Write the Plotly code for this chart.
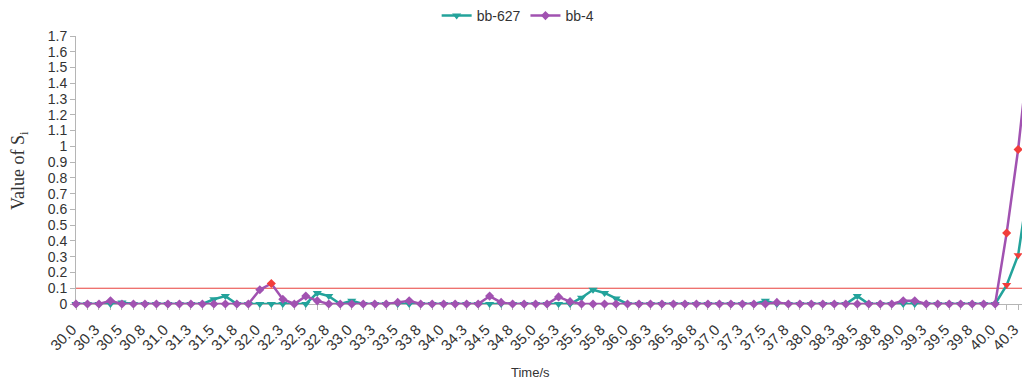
import plotly.graph_objects as go

# Sampling grid: one sample every 0.125 s starting at 30.0 s
times = [round(30 + 0.125 * k, 3) for k in range(84)]

# S_i for node bb-627
bb627 = [
    0, 0, 0, 0, 0.01, 0, 0, 0, 0, 0,
    0, 0, 0.03, 0.05, 0, 0, 0, 0, 0, 0,
    0, 0.07, 0.05, 0, 0.02, 0, 0, 0, 0, 0,
    0, 0, 0, 0, 0, 0, 0, 0, 0, 0,
    0, 0, 0, 0, 0.04, 0.09, 0.07, 0.035, 0, 0,
    0, 0, 0, 0, 0, 0, 0, 0, 0, 0,
    0.02, 0, 0, 0, 0, 0, 0, 0, 0.05, 0,
    0, 0, 0, 0, 0, 0, 0, 0, 0, 0,
    0, 0.12, 0.31, 0.8,
]

# S_i for node bb-4
bb4 = [
    0, 0, 0, 0.02, 0, 0, 0, 0, 0, 0,
    0, 0, 0, 0, 0, 0, 0.09, 0.13, 0.03, 0,
    0.05, 0.02, 0, 0, 0, 0, 0, 0, 0.01, 0.02,
    0, 0, 0, 0, 0, 0, 0.05, 0.01, 0, 0,
    0, 0, 0.045, 0.015, 0, 0, 0, 0, 0, 0,
    0, 0, 0, 0, 0, 0, 0, 0, 0, 0,
    0, 0.01, 0, 0, 0, 0, 0, 0, 0, 0,
    0, 0, 0.02, 0.02, 0, 0, 0, 0, 0, 0,
    0, 0.45, 0.98, 1.65,
]

threshold = 0.1

x_tick_labels = [
    "30.0", "30.3", "30.5", "30.8", "31.0", "31.3", "31.5", "31.8",
    "32.0", "32.3", "32.5", "32.8", "33.0", "33.3", "33.5", "33.8",
    "34.0", "34.3", "34.5", "34.8", "35.0", "35.3", "35.5", "35.8",
    "36.0", "36.3", "36.5", "36.8", "37.0", "37.3", "37.5", "37.8",
    "38.0", "38.3", "38.5", "38.8", "39.0", "39.3", "39.5", "39.8",
    "40.0", "40.3",
]
y_tick_values = [round(0.1 * k, 1) for k in range(18)]
y_tick_labels = ["0", "0.1", "0.2", "0.3", "0.4", "0.5", "0.6", "0.7", "0.8",
                 "0.9", "1", "1.1", "1.2", "1.3", "1.4", "1.5", "1.6", "1.7"]

TEAL = "#23a39b"
PURPLE = "#a152b1"
ALERT = "#f23d3a"
AXIS_GREY = "#b5b5b5"
TEXT = "#333333"
FONT = "Liberation Sans, Arial, sans-serif"


def marker_colors(values, base):
    return [ALERT if v > threshold else base for v in values]


fig = go.Figure()
fig.add_trace(go.Scatter(
    x=times, y=bb627, name="bb-627", mode="lines+markers",
    line=dict(color=TEAL, width=2.5),
    marker=dict(symbol="triangle-down", size=8,
                color=marker_colors(bb627, TEAL), line=dict(width=0)),
    cliponaxis=False,
))
fig.add_trace(go.Scatter(
    x=times, y=bb4, name="bb-4", mode="lines+markers",
    line=dict(color=PURPLE, width=2.5),
    marker=dict(symbol="diamond", size=7,
                color=marker_colors(bb4, PURPLE), line=dict(width=0)),
    cliponaxis=False,
))

# threshold line
fig.add_shape(type="line", xref="paper", x0=0, x1=1, yref="y",
              y0=threshold, y1=threshold,
              line=dict(color="#e8413c", width=1), layer="below")

fig.update_layout(
    width=1022, height=383,
    margin=dict(l=76, r=0, t=36, b=79, autoexpand=False),
    paper_bgcolor="white", plot_bgcolor="white",
    font=dict(family=FONT, size=14, color=TEXT),
    showlegend=True,
    legend=dict(orientation="h", xref="container", yref="container",
                x=0.507, xanchor="center", y=1.0, yanchor="top",
                font=dict(size=14, color=TEXT), itemwidth=30),
    annotations=[
        dict(text="Value of S<sub>i</sub>", xref="paper", yref="paper",
             x=-0.0603, y=0.5, xanchor="center", yanchor="middle",
             textangle=-90, showarrow=False,
             font=dict(family="Liberation Serif, Times New Roman, serif",
                       size=18, color=TEXT)),
        dict(text="Time/s", xref="paper", yref="paper",
             x=0.48, y=-0.254, xanchor="center", yanchor="middle",
             showarrow=False, font=dict(family=FONT, size=13, color=TEXT)),
    ],
)

fig.update_xaxes(
    range=[30, 40.292], showgrid=False, zeroline=False, automargin=False,
    showline=True, linecolor=AXIS_GREY, linewidth=1,
    tickmode="array", tickvals=times[::2], ticktext=x_tick_labels,
    tickangle=-45, ticks="outside", ticklen=5, tickcolor=AXIS_GREY,
    tickfont=dict(size=15, color=TEXT), ticklabeloverflow="allow",
    ticklabelstandoff=5, ticklabelshift=-4,
    minor=dict(dtick=0.125, tick0=30, ticks="outside", ticklen=5,
               tickcolor=AXIS_GREY),
    layer="below traces",
)
fig.update_yaxes(
    range=[0, 1.7], showgrid=False, zeroline=False, automargin=False,
    showline=True, linecolor=AXIS_GREY, linewidth=1,
    tickmode="array", tickvals=y_tick_values, ticktext=y_tick_labels,
    ticks="outside", ticklen=5, tickcolor=AXIS_GREY,
    tickfont=dict(size=14, color=TEXT),
    layer="below traces",
)

fig.write_html("out.html")
